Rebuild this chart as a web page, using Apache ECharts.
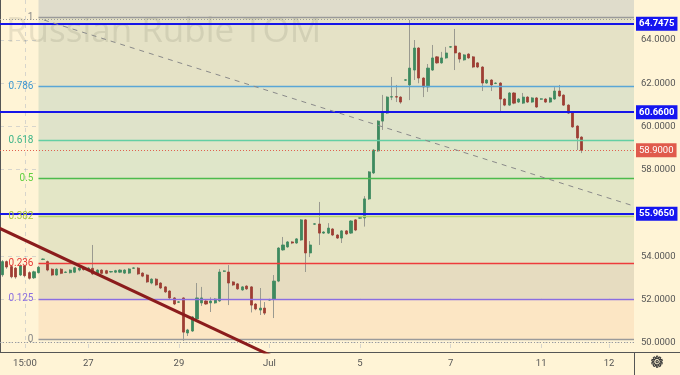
<!DOCTYPE html>
<html><head><meta charset="utf-8">
<script src="https://cdn.jsdelivr.net/npm/echarts@6/dist/echarts.min.js"></script>
<style>html,body{margin:0;padding:0;background:#fff4d6}#c{width:680px;height:375px}</style>
</head><body><div id="c"></div>
<script>
// ---- data ----
const opens = [53.14,53.75,53.52,53.45,53.13,53.55,53.24,53.00,53.24,53.85,53.75,53.40,53.13,53.40,53.25,53.24,53.26,53.36,53.45,53.38,
53.44,53.21,53.36,53.33,53.27,53.26,53.26,53.22,53.22,53.44,53.45,53.22,53.13,52.76,52.94,52.76,52.58,52.39,52.07,51.87,
52.07,50.45,50.54,51.10,51.84,51.93,51.84,51.84,51.93,53.30,53.27,52.81,52.72,52.44,52.62,52.58,51.79,51.51,51.60,51.97,
52.02,52.85,54.29,54.43,54.66,54.61,54.75,55.68,54.15,55.48,55.49,55.07,55.07,55.26,54.98,54.84,55.17,55.07,55.68,55.76,
55.77,56.65,57.85,58.87,60.25,60.62,61.36,61.38,61.36,62.14,61.92,62.61,63.63,62.24,61.83,62.61,63.22,62.94,63.17,63.67,
63.72,63.40,63.08,63.35,63.22,62.94,62.75,62.01,62.15,61.99,62.01,61.27,60.99,61.55,61.13,61.08,61.36,61.13,61.32,61.26,
61.27,61.13,61.27,61.64,61.45,60.99,60.67,60.02,59.51];
const closes = [53.75,53.50,53.05,53.04,53.55,53.10,52.98,53.28,53.49,53.87,53.36,53.13,53.40,53.21,53.27,53.36,53.47,53.45,53.38,53.45,
53.18,53.36,53.21,53.21,53.29,53.33,53.36,53.36,53.41,53.46,53.18,53.08,52.81,52.94,52.67,52.53,52.35,52.07,51.79,51.89,
50.49,50.59,51.19,52.07,52.07,51.79,51.93,52.02,53.27,53.32,52.76,52.67,52.49,52.58,52.49,51.74,51.56,51.60,51.37,52.00,
52.85,54.38,54.52,54.66,54.61,54.80,55.68,54.15,54.52,55.50,55.07,55.12,55.30,54.98,54.84,55.17,55.03,55.63,55.21,55.78,
56.65,57.90,58.91,60.25,60.62,61.36,61.38,61.36,61.13,62.16,62.70,63.63,62.24,61.83,62.70,63.17,62.94,63.17,63.40,63.69,
63.40,63.12,63.31,63.17,62.75,62.75,62.01,62.15,61.92,62.01,61.27,60.99,61.55,61.08,61.27,61.36,61.13,61.32,60.90,61.28,
61.13,61.32,61.64,61.41,60.99,60.62,59.98,59.47,58.90];
const lows = [53.05,53.42,52.98,52.96,53.08,53.02,52.92,52.95,53.20,53.82,53.30,53.08,53.10,53.17,53.22,53.20,53.22,53.30,53.33,53.34,
53.13,53.16,53.17,53.17,53.24,53.22,53.22,53.18,53.18,53.41,53.13,53.03,52.76,52.70,52.62,52.48,52.30,51.98,51.74,51.84,
50.08,50.31,50.50,51.05,51.70,51.75,51.42,51.80,51.89,53.27,51.74,52.62,52.44,52.40,52.44,51.40,51.50,51.28,51.28,51.94,
51.14,52.80,54.25,54.39,54.56,54.57,54.71,53.27,53.96,55.45,54.52,55.03,55.03,54.93,54.80,54.61,54.99,55.03,55.16,55.73,
55.37,56.60,57.80,58.83,59.84,60.58,61.22,61.13,61.05,62.11,61.22,62.15,62.00,61.36,61.60,62.57,62.90,62.90,63.13,63.64,
62.61,62.95,63.04,63.13,62.70,62.70,61.64,61.97,61.64,61.96,60.67,60.94,60.95,61.03,61.09,61.04,61.09,61.09,60.86,61.23,
61.09,61.09,61.23,61.37,60.95,60.58,59.94,58.91,58.77];
const highs = [53.82,53.80,53.58,53.50,53.62,53.60,53.30,53.33,53.55,53.90,53.80,53.45,53.45,53.45,53.30,53.40,53.52,53.52,53.50,53.50,
54.52,53.40,53.40,53.37,53.32,53.37,53.40,53.40,53.45,53.49,53.50,53.26,53.17,52.98,52.99,52.80,52.62,52.43,52.11,51.92,
52.10,50.64,51.23,52.76,52.58,51.97,52.10,52.06,53.41,53.35,53.59,52.85,52.76,52.62,52.66,52.62,51.83,52.53,51.88,52.03,
53.13,54.42,54.89,54.70,54.70,54.84,55.72,55.72,54.70,55.53,56.51,55.16,55.53,55.30,55.02,55.21,55.21,55.67,55.72,55.81,
56.78,57.94,58.95,60.29,61.46,61.40,62.29,61.92,61.40,62.19,64.93,64.00,63.67,62.28,62.89,63.77,63.26,63.45,63.68,63.72,
64.51,63.44,63.35,63.39,63.26,62.98,62.79,62.19,62.19,62.04,62.05,61.31,61.59,61.59,61.31,61.55,61.40,61.36,61.36,61.31,
61.31,61.36,61.82,61.92,61.49,61.03,60.71,60.06,59.55];
const slotCount = 140;                       // candle slots incl. empty space on the right
const tickIndex = [5, 19, 39, 59, 79, 99, 119, 134];
const tickLabels = ['15:00', '27', '29', 'Jul', '5', '7', '11', '12'];
const priceTicks = [50, 52, 54, 58, 60, 62, 64];
const gridTicks = [50, 52, 54, 56, 58, 60, 62, 64];
const yMin = 49.57, yMax = 65.85;
const fibRatios = [0, 0.125, 0.236, 0.382, 0.5, 0.618, 0.786, 1];
const fibLabels = ['0', '0.125', '0.236', '0.382', '0.5', '0.618', '0.786', '1'];
const fibLow = 50.17, fibHigh = 65.03;
const fibStartIndex = 8;
const guideLines = [64.96, 50.03];
const blueLevels = [64.7475, 60.6600, 55.9650];
const lastPrice = 58.90;
const trendRed = [[-1, 55.38], [62, 49.19]];
const trendGray = [[9.7, 64.925], [140, 56.32]];

// ---- styles ----
const UP = '#3e8a5f', DOWN = '#9e3e33', WICK = '#9a9a90';
const fibLineColors = ['#9a9a9a', '#8a6ee0', '#ee3b3b', '#b8d36a', '#4cbb4c', '#63cfa4', '#5aa6d6', '#9a9a9a'];
const fibTextColors = ['#888888', '#8a6ee0', '#e53935', '#a8c43a', '#5fcf3f', '#3fb589', '#3f98d0', '#888888'];
const zoneColors = ['#fce6c4', '#e6dcc0', '#e6e4c4', '#e3e6c6', '#dfe6c9', '#dfe3ca', '#e5e2c6', '#dfdccb'];

const fibLevels = fibRatios.map(r => fibLow + r * (fibHigh - fibLow));
const cats = Array.from({length: slotCount}, (_, i) => String(i));
const wickData = opens.map((o, i) => [o, closes[i], lows[i], highs[i]]);
const bodyData = opens.map((o, i) => [o, closes[i], Math.min(o, closes[i]), Math.max(o, closes[i])]);
const fibX0 = fibStartIndex + 0.5;

const zones = fibLevels.map((lv, k) => {
  const top = k < fibLevels.length - 1 ? fibLevels[k + 1] : yMax;
  return [{xAxis: fibX0, yAxis: lv, itemStyle: {color: zoneColors[k]}}, {xAxis: slotCount, yAxis: top}];
});
const fibLines = fibLevels.map((lv, k) => [
  {xAxis: fibX0, yAxis: lv, lineStyle: {color: fibLineColors[k], width: 1.4, type: 'solid'},
   label: {show: true, position: 'start', formatter: fibLabels[k], color: fibTextColors[k], fontSize: 10, distance: 5, fontFamily: 'Roboto'}},
  {xAxis: slotCount, yAxis: lv}
]);
const guide = guideLines.map(v => [{xAxis: 0, yAxis: v}, {xAxis: slotCount, yAxis: v}]);
const blue = blueLevels.map(v => [
  {xAxis: 0, yAxis: v, label: {show: true, position: 'end', formatter: v.toFixed(4), color: '#fff',
   backgroundColor: '#1515f0', padding: [2, 3, 2, 3], fontSize: 9.5, fontWeight: 'bold', distance: 2, fontFamily: 'Roboto'}},
  {xAxis: slotCount, yAxis: v}
]);

const chart = echarts.init(document.getElementById('c'), null, {renderer: 'canvas'});
chart.setOption({
  animation: false,
  backgroundColor: '#fff4d6',
  grid: {left: -1, right: 46, top: 0, bottom: 23, containLabel: false},
  xAxis: [
    {type: 'category', data: cats, show: false, boundaryGap: true},
    {type: 'value', min: 0, max: slotCount, position: 'bottom',
     axisLine: {show: true, onZero: false, lineStyle: {color: '#555'}},
     axisTick: {show: false, customValues: tickIndex.map(i => i + 0.5)},
     axisLabel: {customValues: tickIndex.map(i => i + 0.5), color: '#555', fontSize: 9.5, margin: 7, fontFamily: 'Roboto',
       formatter: v => tickLabels[tickIndex.indexOf(Math.round(v - 0.5))]},
     splitLine: {show: true, lineStyle: {color: 'rgba(140,155,185,0.35)', type: [4, 4]}}}
  ],
  yAxis: [{
    type: 'value', position: 'right', min: yMin, max: yMax,
    axisLine: {show: true, lineStyle: {color: '#555'}},
    axisTick: {show: false, customValues: gridTicks},
    axisLabel: {customValues: priceTicks, formatter: v => v.toFixed(4), color: '#555', fontSize: 9.5, margin: 7, fontFamily: 'Roboto'},
    splitLine: {show: true, lineStyle: {color: 'rgba(140,155,185,0.35)', type: [4, 4]}}
  }],
  graphic: [
    {type: 'text', left: 6, top: 15, z: 2, silent: true,
     style: {text: 'Russian Ruble TOM', font: '35px "Open Sans"', fill: 'rgba(120,120,100,0.17)'}},
    {type: 'line', shape: {x1: 634.5, y1: 352, x2: 634.5, y2: 375}, style: {stroke: '#555', lineWidth: 1}},
    {type: 'line', shape: {x1: 634, y1: 352.5, x2: 680, y2: 352.5}, style: {stroke: '#555', lineWidth: 1}},
    {type: 'text', left: 650, top: 355, style: {text: '\u2699', font: '15px DejaVu Sans', fill: 'transparent', stroke: '#333', lineWidth: 1}}
  ],
  series: [
    {type: 'line', xAxisIndex: 1, data: [], z: 1, silent: true,
     markArea: {silent: true, data: zones},
     markLine: {silent: true, symbol: ['none', 'none'], data: fibLines}},
    {type: 'line', xAxisIndex: 1, data: [], z: 2, silent: true,
     markLine: {silent: true, symbol: ['none', 'none'], label: {show: false},
       lineStyle: {color: '#9a9a9a', type: [1, 2], width: 1}, data: guide}},
    {type: 'candlestick', xAxisIndex: 0, data: wickData, barWidth: 1, z: 3, silent: true,
     itemStyle: {color: WICK, color0: WICK, borderColor: WICK, borderColor0: WICK, borderWidth: 1}},
    {type: 'candlestick', xAxisIndex: 0, data: bodyData, barWidth: 2.6, z: 4, silent: true,
     itemStyle: {color: UP, color0: DOWN, borderColor: UP, borderColor0: DOWN, borderWidth: 0.8}},
    {type: 'line', xAxisIndex: 1, data: trendGray, z: 5, symbol: 'none', silent: true,
     lineStyle: {color: '#8a8a8a', width: 1, type: [5, 5]}},
    {type: 'line', xAxisIndex: 1, data: trendRed, z: 6, symbol: 'none', silent: true,
     lineStyle: {color: '#8b1c1c', width: 3}},
    {type: 'line', xAxisIndex: 1, data: [], z: 7, silent: true,
     markLine: {silent: true, symbol: ['none', 'none'], lineStyle: {color: '#1515e8', width: 2, type: 'solid'}, data: blue}},
    {type: 'line', xAxisIndex: 1, data: [], z: 7, silent: true,
     markLine: {silent: true, symbol: ['none', 'none'], lineStyle: {color: '#e0604f', width: 1, type: [1, 2]},
       label: {show: true, position: 'end', formatter: lastPrice.toFixed(4), color: '#fff', backgroundColor: '#e05a4c',
         padding: [2, 3, 2, 3], fontSize: 9.5, distance: 2, fontFamily: 'Roboto'},
       data: [[{xAxis: 0, yAxis: lastPrice}, {xAxis: slotCount, yAxis: lastPrice}]]}}
  ]
});
</script></body></html>
